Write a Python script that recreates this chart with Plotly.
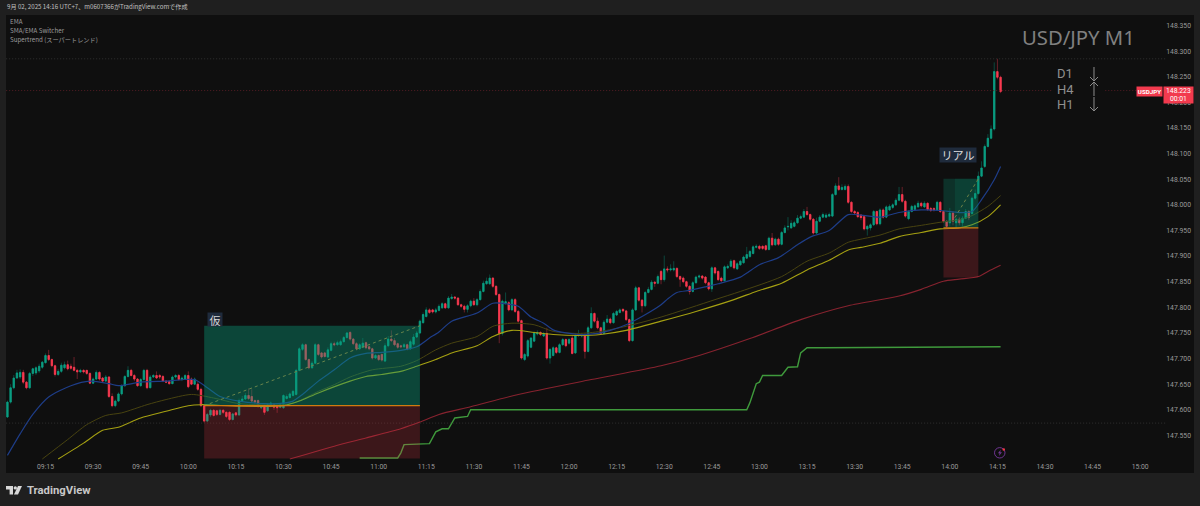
import pandas as pd
import plotly.graph_objects as go

SESSION_START = pd.Timestamp("2025-09-02 09:00:00")
PRICE_BASE = 147.0   # all series below are in 0.001 yen above this base
FIRST_CANDLE_MINUTE = 3   # 09:03

opens = [
586,615,643,662,664,673,654,643,671,672, 676,683,692,706,698,686,669,675,682,688,
685,683,677,674,677,677,671,652,660,673, 662,656,664,626,608,617,631,647,665,677,
667,660,647,659,677,643,664,667,667,665, 656,655,651,664,667,659,660,667,660,650,
650,640,608,578,590,599,598,591,599,595, 595,581,594,590,618,621,628,626,618,618,
604,607,598,608,610,608,605,604,622,624, 628,630,677,718,727,698,682,691,727,711,
711,703,716,729,727,727,733,741,751,738, 729,719,722,731,723,719,701,706,708,695,
725,738,735,729,725,723,727,719,728,742, 750,770,782,795,795,791,794,799,807,799,
817,820,818,805,802,796,803,812,805,815, 831,846,846,857,841,825,749,808,809,795,
815,792,774,698,705,722,734,748,751,744, 749,701,706,721,712,727,737,730,740,711,
745,744,747,714,760,788,773,760,749,771, 777,770,785,790,796,793,776,735,795,838,
814,803,829,835,849,847,870,854,875,873, 873,876,860,857,850,841,831,848,859,861,
859,848,836,877,870,857,852,877,880,891, 875,883,887,896,899,905,917,919,919,920,
913,935,922,933,923,946,957,955,958,965, 974,976,987,981,972,945,968,976,976,978,
978,1020,1037,1030,1030,1036,1005,987,985,980, 977,953,955,961,987,963,990,976,990,995,
1000,1009,1020,1007,973,987,991,996,1003,996, 1003,993,993,990,1005,987,968,965,984,965,
972,965,974,987,983,1013,1022,1056,1075,1114, 1130,1148,1260,1249,
]
closes = [
615,643,662,672,673,654,643,671,680,682, 685,693,706,698,686,669,675,687,688,680,
681,677,674,677,674,671,652,660,673,660, 656,664,626,608,617,631,647,665,677,667,
660,647,659,677,643,664,667,662,664,656, 654,651,664,667,659,662,667,645,650,660,
640,608,578,591,599,589,591,599,595,587, 581,592,590,618,621,628,622,617,615,607,
607,595,610,613,605,604,610,628,626,631, 636,677,719,727,698,682,691,727,708,703,
704,717,729,727,731,733,741,750,738,729, 719,727,730,721,719,701,706,698,697,725,
738,735,727,722,723,727,719,733,742,750, 773,786,795,790,791,795,802,807,799,818,
820,818,805,802,796,803,812,805,815,831, 847,851,857,841,825,749,812,811,795,815,
792,773,701,708,735,740,750,751,747,749, 701,718,721,712,727,737,725,737,710,745,
747,746,714,760,788,773,760,749,771,777, 770,788,792,795,793,776,735,795,838,814,
803,829,835,849,847,860,854,875,873,875, 876,860,855,850,841,831,848,859,861,857,
848,836,877,867,854,852,879,880,890,877, 885,890,898,903,909,918,919,915,915,913,
935,922,933,923,946,955,958,964,965,974, 977,987,981,972,945,968,976,981,980,981,
1020,1037,1030,1034,1036,1005,987,984,977,975, 953,958,961,987,963,990,976,996,997,1000,
1009,1020,1007,978,987,997,998,1003,998,1003, 991,989,990,1005,987,968,958,984,968,972,
965,974,987,975,1013,1022,1056,1072,1114,1130, 1148,1260,1249,1221,
]
highs = [
618,650,668,678,679,678,656,674,682,685, 690,695,710,717,700,688,680,692,694,696,
690,703,680,680,679,678,673,663,677,675, 664,668,666,632,620,634,650,668,685,680,
670,662,662,680,680,668,670,675,670,668, 658,658,667,670,670,665,670,675,663,663,
655,643,610,594,602,601,600,602,601,597, 597,594,596,622,627,633,642,640,620,620,
610,610,613,616,613,610,612,630,630,634, 639,680,722,730,729,700,695,730,729,713,
713,722,733,733,735,737,744,752,753,740, 732,730,740,733,726,721,709,708,710,730,
744,755,740,731,727,730,729,737,748,754, 776,790,800,798,797,799,806,810,809,822,
826,822,820,807,805,806,815,818,818,835, 852,858,864,859,843,827,815,829,812,818,
818,795,776,711,738,742,753,755,753,752, 760,720,724,723,730,740,739,740,745,748,
756,750,749,764,800,790,780,762,775,785, 780,791,795,798,798,795,778,798,842,840,
816,832,840,853,851,864,873,901,880,884, 890,878,862,860,852,843,851,862,864,863,
861,850,880,879,872,860,882,884,894,893, 888,893,901,918,912,921,923,922,921,922,
938,945,936,936,949,960,976,970,969,980, 981,992,996,983,974,975,980,985,984,985,
1023,1042,1054,1040,1040,1040,1007,990,988,982, 979,961,964,990,989,993,993,999,1001,1003,
1013,1035,1035,1010,990,1000,1001,1008,1006,1007, 1005,996,995,1008,1007,989,970,994,988,975,
976,978,992,990,1016,1030,1065,1085,1118,1138, 1155,1278,1285,1252,
]
lows = [
584,612,640,660,660,650,640,641,666,668, 672,680,690,695,683,665,666,672,679,677,
678,675,660,672,671,668,650,650,658,657, 654,654,623,605,605,615,628,645,663,665,
656,645,645,657,640,642,662,660,660,654, 652,649,650,661,657,656,658,642,648,648,
637,605,575,576,586,587,588,589,592,584, 578,579,587,588,616,619,619,614,612,604,
601,590,596,605,600,594,603,602,620,622, 626,628,675,715,696,679,680,689,705,700,
702,701,714,724,725,725,731,739,735,726, 716,717,720,718,716,698,699,695,694,693,
722,732,724,719,720,720,716,717,725,740, 748,768,780,787,788,788,792,797,797,797,
815,815,803,799,790,790,800,803,802,813, 829,844,844,838,822,730,745,805,792,793,
789,770,698,695,702,720,732,745,744,742, 698,690,704,709,710,725,722,727,708,709,
742,741,700,712,758,770,757,746,747,769, 767,768,783,788,790,773,732,733,793,811,
790,800,827,833,840,845,845,850,868,870, 870,857,840,847,838,825,829,846,856,854,
845,833,830,864,851,849,850,875,878,874, 873,881,885,894,897,903,915,912,912,910,
911,919,920,920,921,944,950,953,956,963, 972,974,979,969,942,943,966,974,974,976,
976,1018,1027,1028,1028,1002,984,980,974,970, 950,940,950,959,960,960,973,974,988,992,
998,1007,1004,975,970,985,989,994,995,994, 988,986,987,988,984,965,955,958,960,955,
960,958,972,970,981,1010,1020,1054,1072,1112, 1128,1145,1245,1218,
]

ema_blue_min = [3,7,11,16,23,29,35,38,45,53,62,66,70,76,84,90,93,96,101,106,111,116,121,127,132,136,139,143,151,156,160,164,168,172,175,179,183,189,193,198,203,209,211,214,218,223,227,234,240,246,252,256,262,268,272,278,284,291,297,303,307,310,314,316]
ema_blue_val = [511,553,591,625,647,656,651,647,654,656,659,643,626,617,612,613,617,630,656,678,701,710,712,716,723,740,752,773,789,808,807,802,781,769,756,750,747,749,755,766,782,805,816,829,833,840,846,859,883,897,922,937,950,981,980,976,985,990,989,985,987,1010,1049,1075]

sma_yellow_min = [19,27,33,38,45,53,60,64,76,90,95,101,111,116,121,127,132,138,143,151,156,162,169,175,183,190,198,209,220,232,239,247,255,262,268,272,278,284,291,297,303,307,312,316]
sma_yellow_val = [504,535,560,566,584,597,608,610,607,608,617,633,656,665,669,675,685,698,711,725,743,755,751,747,745,747,755,773,792,815,831,847,873,892,912,917,925,938,946,953,955,961,977,1000]

ema_olive_min = [14,22,28,34,39,47,53,61,68,76,90,94,101,106,111,118,127,132,138,143,151,156,162,169,175,183,190,198,209,226,234,247,255,262,268,272,278,284,291,297,303,307,312,316]
ema_olive_val = [504,542,571,589,594,610,620,630,623,612,610,615,636,649,664,678,685,696,717,730,743,763,769,766,753,749,753,763,781,815,831,860,890,906,927,933,941,953,960,966,971,979,997,1018]

ema_red_min = [92,106,116,127,133,139,149,164,187,209,221,237,253,268,284,291,298,303,309,312,316]
ema_red_val = [504,529,545,563,576,591,606,630,659,686,706,739,776,803,822,835,851,855,860,870,882]

supertrend_min = [114,126,127,128,136,138,140,142,144,148,149,236,237,239,240,241,247,249,252,253,255,260,316]
supertrend_val = [506,506,516,532,534,557,563,563,584,587,600,600,614,651,654,667,667,683,684,711,721,721,723]

tick_minutes = [15*k for k in range(1, 25)]
tick_labels = ["09:15","09:30","09:45","10:00","10:15","10:30","10:45","11:00","11:15","11:30","11:45","12:00",
               "12:15","12:30","12:45","13:00","13:15","13:30","13:45","14:00","14:15","14:30","14:45","15:00"]
price_ticks = [147.55,147.60,147.65,147.70,147.75,147.80,147.85,147.90,147.95,148.00,148.05,148.10,148.15,148.20,148.25,148.30,148.35]

LAST_PRICE = 148.223
HIGH_LEVEL = 148.285
LOW_LEVEL = 147.574

# position boxes: left, right (minutes after 09:00), top, entry, bottom (prices)
box_demo = dict(l=65, r=133, top=147.764, mid=147.608, bot=147.505)
box_real = dict(l=298, split=301.6, r=309, top=148.051, mid=147.955, bot=147.858)

GREEN, RED = "#0b9e82", "#fb3a50"
GREEN_W, RED_W = "#0a5f50", "#8f2634"
PANEL, OUTER = "#0f0f0f", "#1f1f1f"

def t(m):
    return SESSION_START + pd.to_timedelta(m, unit="m")

def ts(ms):
    return [t(m) for m in ms]

def pr(vs):
    return [PRICE_BASE + v / 1000 for v in vs]

W, H = 1200, 506
L, R, T, B = 6, 1194, 15, 473
def xp(px): return (px - L) / (R - L)
def yp(py): return (B - py) / (B - T)

n = len(closes)
assert n == len(opens) == len(highs) == len(lows) == 314, (len(opens), len(closes), len(highs), len(lows))
cx = ts([FIRST_CANDLE_MINUTE + i for i in range(n)])
o, c, h, l = pr(opens), pr(closes), pr(highs), pr(lows)

fig = go.Figure()

# candles: wick layer and body layer
fig.add_trace(go.Candlestick(x=cx, open=o, high=h, low=l, close=c, name="wicks",
    increasing=dict(line=dict(color=GREEN_W, width=0.7), fillcolor=GREEN_W),
    decreasing=dict(line=dict(color=RED_W, width=0.7), fillcolor=RED_W),
    hoverinfo="skip", showlegend=False))
fig.add_trace(go.Candlestick(x=cx, open=o, close=c,
    high=[max(a, b) for a, b in zip(o, c)], low=[min(a, b) for a, b in zip(o, c)], name="USDJPY",
    increasing=dict(line=dict(color=GREEN, width=0.7), fillcolor=GREEN),
    decreasing=dict(line=dict(color=RED, width=0.7), fillcolor=RED),
    hoverinfo="skip", showlegend=False))

def line(ms, vs, color, width, name, shape="spline"):
    fig.add_trace(go.Scatter(x=ts(ms), y=pr(vs), mode="lines", name=name, hoverinfo="skip",
                             line=dict(color=color, width=width, shape=shape, **({"smoothing": 0.7} if shape == "spline" else {})),
                             showlegend=False))

line(ema_red_min, ema_red_val, "#87232f", 1.1, "EMA 200")
line(supertrend_min, supertrend_val, "#3f9a3c", 1.4, "Supertrend", shape="linear")
line(ema_olive_min, ema_olive_val, "#48430f", 1.0, "SMA/EMA")
line(sma_yellow_min, sma_yellow_val, "#a5a012", 1.1, "SMA/EMA")
line(ema_blue_min, ema_blue_val, "#1e3d88", 1.2, "EMA")

# dotted horizontals
for lvl, col in [(HIGH_LEVEL, "#3a3a3a"), (LOW_LEVEL, "#3a3a3a")]:
    fig.add_trace(go.Scatter(x=[t(2.6), t(368.5)], y=[lvl, lvl], mode="lines", hoverinfo="skip", showlegend=False,
                             line=dict(color=col, width=0.8, dash="1px,2px")))
fig.add_trace(go.Scatter(x=[t(2.6), t(332), None, t(349), t(359)], y=[LAST_PRICE, LAST_PRICE, None, LAST_PRICE, LAST_PRICE],
                         mode="lines", hoverinfo="skip", showlegend=False,
                         line=dict(color="#5c1e27", width=0.9, dash="1px,2px")))

# diagonal projected paths
DIAG = "#a8762e"
fig.add_trace(go.Scatter(x=[t(box_demo["l"]), t(box_demo["r"])], y=[box_demo["mid"], box_demo["top"]],
                         mode="lines", hoverinfo="skip", showlegend=False, line=dict(color=DIAG, width=1, dash="3px,3px")))
fig.add_trace(go.Scatter(x=[t(box_real["split"]), t(box_real["r"])], y=[147.975, box_real["top"]],
                         mode="lines", hoverinfo="skip", showlegend=False, line=dict(color=DIAG, width=1, dash="3px,3px")))

G_FILL = "rgba(8,153,120,0.40)"
R_FILL = "rgba(242,54,69,0.20)"
ORANGE = "#d07a10"
shapes = [
    dict(type="rect", xref="x", yref="y", x0=t(box_demo["l"]), x1=t(box_demo["r"]), y0=box_demo["mid"], y1=box_demo["top"],
         fillcolor=G_FILL, line_width=0, layer="above"),
    dict(type="rect", xref="x", yref="y", x0=t(box_demo["l"]), x1=t(box_demo["r"]), y0=box_demo["bot"], y1=box_demo["mid"],
         fillcolor=R_FILL, line_width=0, layer="above"),
    dict(type="line", xref="x", yref="y", x0=t(box_demo["l"]), x1=t(box_demo["r"]), y0=box_demo["mid"], y1=box_demo["mid"],
         line=dict(color=ORANGE, width=1.3), layer="above"),
    dict(type="rect", xref="x", yref="y", x0=t(box_real["l"]), x1=t(box_real["r"]), y0=box_real["mid"], y1=box_real["top"],
         fillcolor="rgba(8,153,120,0.25)", line_width=0, layer="above"),
    dict(type="rect", xref="x", yref="y", x0=t(box_real["split"]), x1=t(box_real["r"]), y0=box_real["mid"], y1=box_real["top"],
         fillcolor="rgba(8,153,120,0.14)", line_width=0, layer="above"),
    dict(type="rect", xref="x", yref="y", x0=t(box_real["l"]), x1=t(box_real["r"]), y0=box_real["bot"], y1=box_real["mid"],
         fillcolor=R_FILL, line_width=0, layer="above"),
    dict(type="line", xref="x", yref="y", x0=t(box_real["l"]), x1=t(box_real["r"]), y0=box_real["mid"], y1=box_real["mid"],
         line=dict(color=ORANGE, width=1.3), layer="above"),
]

# logo, alert icon and trend arrows in page pixels
def path(points, close=True):
    return "M" + " L".join(f"{xp(a):.5f},{yp(b):.5f}" for a, b in points) + (" Z" if close else "")
LOGO = "#d8d8d8"
shapes += [
    dict(type="path", xref="paper", yref="paper", path=path([(6,486),(13,486),(13,494.5),(9.6,494.5),(9.6,489.4),(6,489.4)]),
         fillcolor=LOGO, line_width=0),
    dict(type="circle", xref="paper", yref="paper", x0=xp(13.6), x1=xp(17), y0=yp(489.6), y1=yp(486.2), fillcolor=LOGO, line_width=0),
    dict(type="path", xref="paper", yref="paper", path=path([(18,486),(22,486),(18,494.5),(14,494.5)]), fillcolor=LOGO, line_width=0),
    dict(type="circle", xref="paper", yref="paper", x0=xp(994.5), x1=xp(1005), y0=yp(458), y1=yp(447.6),
         line=dict(color="#6f3591", width=1), fillcolor="rgba(0,0,0,0)"),
    dict(type="path", xref="paper", yref="paper", path=path([(1000.8,449.8),(997.9,453.3),(999.6,453.3),(998.9,456),(1002,452.2),(1000.2,452.2)]),
         fillcolor="#6f3591", line_width=0),
    dict(type="circle", xref="paper", yref="paper", x0=xp(1002.5), x1=xp(1005), y0=yp(450.7), y1=yp(448.2), fillcolor="#f23645", line_width=0),
]
ARROW = "#8c8c8c"
AX = 1094
for y0, y1 in [(67, 81), (96, 82), (97, 111)]:
    head = 4 if y1 > y0 else -4
    for pts in ([(AX, y0), (AX, y1)], [(AX - 4, y1 - head), (AX, y1), (AX + 4, y1 - head)]):
        shapes.append(dict(type="path", xref="paper", yref="paper", path=path(pts, close=False),
                           line=dict(color=ARROW, width=1), fillcolor="rgba(0,0,0,0)"))

UI = "Noto Sans CJK JP"
def note(px, py, text, size, color, xanchor="left", font=UI, align="left", **kw):
    return dict(xref="paper", yref="paper", x=xp(px), y=yp(py), text=text, showarrow=False, xanchor=xanchor, yanchor="middle",
                font=dict(family=font, size=size, color=color), align=align, borderpad=0, **kw)

annotations = [
    note(6, 7, "9月 02, 2025 14:16 UTC+7、m0607366がTradingView.comで作成", 6.15, "#c0c0c0"),
    note(9, 21.5, "EMA", 6.2, "#9c9c9c"),
    note(9, 30.5, "SMA/EMA Switcher", 6.2, "#9c9c9c"),
    note(9, 39.5, "Supertrend (スーパートレンド)", 6.2, "#9c9c9c"),
    note(1021, 37, "USD/JPY M1", 20.3, "#808080", font="Noto Sans"),
    note(1056, 73.5, "D1", 13, "#8f8f8f", font="Roboto"),
    note(1056, 89, "H4", 13, "#8f8f8f", font="Roboto"),
    note(1056, 104.5, "H1", 13, "#8f8f8f", font="Roboto"),
    note(207, 319, "仮", 11, "#d8d8d8", bgcolor="#1f2b3c", width=14, height=13, align="center"),
    note(939, 155, "リアル", 11, "#e0e0e0", bgcolor="#1f2b3c", width=36, height=14, align="center"),
    note(1136, 91.4, "<b>USDJPY</b>", 6.2, "#ffffff", font="Roboto", bgcolor="#f23a4e", width=25, height=9, align="center"),
    note(1162.5, 94.7, "148.223<br>00:01", 6.8, "#ffffff", font="Roboto", bgcolor="#f23a4e", width=29, height=16, align="center"),
    note(26, 490, "<b>TradingView</b>", 11.3, "#c8c8c8", font="Roboto"),
]

y_top = 148.35 + (25.5 - T) * 0.0019516
y_bot = 148.35 - (B - 25.5) * 0.0019516

fig.update_layout(
    width=W, height=H, margin=dict(l=L, r=W - R, t=T, b=H - B),
    paper_bgcolor=OUTER, plot_bgcolor=PANEL, showlegend=False, hovermode=False, boxgap=0.38,
    shapes=shapes, annotations=annotations,
    xaxis=dict(type="date", range=[t(2.55), t(376.96)], rangeslider=dict(visible=False), showgrid=False, zeroline=False,
               showline=False, ticks="", tickvals=ts(tick_minutes), ticktext=tick_labels, ticklabelposition="inside",
               tickfont=dict(family="Roboto", size=6.8, color="#9a9a9a")),
    yaxis=dict(range=[y_bot, y_top], side="right", showgrid=False, zeroline=False, showline=False, ticks="",
               tickvals=price_ticks, tickformat=".3f", ticklabelposition="inside",
               tickfont=dict(family="Roboto", size=6.8, color="#9a9a9a")),
)

fig.write_html("out.html", config=dict(displayModeBar=False),
               post_script="document.body.style.margin='0';document.body.style.overflow='hidden';")
